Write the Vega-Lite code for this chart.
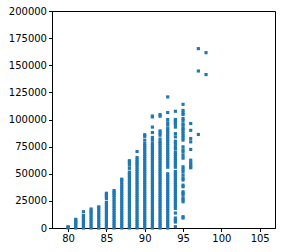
{
  "$schema": "https://vega.github.io/schema/vega-lite/v6.json",
  "autosize": "none",
  "width": 223,
  "height": 217,
  "padding": {"left": 52, "top": 11, "right": 10, "bottom": 24},
  "background": "white",
  "config": {
    "view": {"stroke": "black", "strokeWidth": 1},
    "axis": {"grid": false, "labelFont": "DejaVu Sans", "labelFontSize": 10, "labelColor": "black", "tickColor": "black", "domainColor": "black", "tickSize": 3.5, "labelPadding": 2, "title": null}
  },
  "data": {"values": [
    {"x":80,"y":0},{"x":80,"y":600},{"x":80,"y":1200},
    {"x":81,"y":0},{"x":81,"y":1500},{"x":81,"y":3000},{"x":81,"y":4500},{"x":81,"y":5500},{"x":81,"y":7000},{"x":81,"y":8000},
    {"x":82,"y":0},{"x":82,"y":2000},{"x":82,"y":4000},{"x":82,"y":6000},{"x":82,"y":8000},{"x":82,"y":10000},{"x":82,"y":11500},{"x":82,"y":15000},
    {"x":83,"y":0},{"x":83,"y":2000},{"x":83,"y":4000},{"x":83,"y":6000},{"x":83,"y":8000},{"x":83,"y":10000},{"x":83,"y":12000},{"x":83,"y":14000},{"x":83,"y":15500},{"x":83,"y":17500},
    {"x":84,"y":0},{"x":84,"y":2000},{"x":84,"y":4000},{"x":84,"y":6000},{"x":84,"y":8000},{"x":84,"y":10000},{"x":84,"y":12000},{"x":84,"y":14000},{"x":84,"y":16000},{"x":84,"y":18000},{"x":84,"y":19500},
    {"x":85,"y":0},{"x":85,"y":2000},{"x":85,"y":4000},{"x":85,"y":6000},{"x":85,"y":8000},{"x":85,"y":10000},{"x":85,"y":12000},{"x":85,"y":14000},{"x":85,"y":16000},{"x":85,"y":18000},{"x":85,"y":20000},{"x":85,"y":22000},{"x":85,"y":23500},{"x":85,"y":27000},{"x":85,"y":29000},{"x":85,"y":30500},{"x":85,"y":32000},
    {"x":86,"y":0},{"x":86,"y":2000},{"x":86,"y":4000},{"x":86,"y":6000},{"x":86,"y":8000},{"x":86,"y":10000},{"x":86,"y":12000},{"x":86,"y":14000},{"x":86,"y":16000},{"x":86,"y":18000},{"x":86,"y":20000},{"x":86,"y":22000},{"x":86,"y":24000},{"x":86,"y":26000},{"x":86,"y":28000},{"x":86,"y":30000},{"x":86,"y":31500},{"x":86,"y":33000},{"x":86,"y":34500},
    {"x":87,"y":0},{"x":87,"y":2000},{"x":87,"y":4000},{"x":87,"y":6000},{"x":87,"y":8000},{"x":87,"y":10000},{"x":87,"y":12000},{"x":87,"y":14000},{"x":87,"y":16000},{"x":87,"y":18000},{"x":87,"y":20000},{"x":87,"y":22000},{"x":87,"y":24000},{"x":87,"y":26000},{"x":87,"y":28000},{"x":87,"y":30000},{"x":87,"y":32000},{"x":87,"y":34000},{"x":87,"y":36000},{"x":87,"y":38000},{"x":87,"y":40000},{"x":87,"y":42000},{"x":87,"y":44000},{"x":87,"y":45000},
    {"x":88,"y":0},{"x":88,"y":2000},{"x":88,"y":4000},{"x":88,"y":6000},{"x":88,"y":8000},{"x":88,"y":10000},{"x":88,"y":12000},{"x":88,"y":14000},{"x":88,"y":16000},{"x":88,"y":18000},{"x":88,"y":20000},{"x":88,"y":22000},{"x":88,"y":24000},{"x":88,"y":26000},{"x":88,"y":28000},{"x":88,"y":30000},{"x":88,"y":32000},{"x":88,"y":34000},{"x":88,"y":36000},{"x":88,"y":38000},{"x":88,"y":40000},{"x":88,"y":42000},{"x":88,"y":44000},{"x":88,"y":46000},{"x":88,"y":48000},{"x":88,"y":50000},{"x":88,"y":51500},{"x":88,"y":55000},{"x":88,"y":58000},{"x":88,"y":60500},{"x":88,"y":62000},
    {"x":89,"y":0},{"x":89,"y":2000},{"x":89,"y":4000},{"x":89,"y":6000},{"x":89,"y":8000},{"x":89,"y":10000},{"x":89,"y":12000},{"x":89,"y":14000},{"x":89,"y":16000},{"x":89,"y":18000},{"x":89,"y":20000},{"x":89,"y":22000},{"x":89,"y":24000},{"x":89,"y":26000},{"x":89,"y":28000},{"x":89,"y":30000},{"x":89,"y":32000},{"x":89,"y":34000},{"x":89,"y":36000},{"x":89,"y":38000},{"x":89,"y":40000},{"x":89,"y":42000},{"x":89,"y":44000},{"x":89,"y":46000},{"x":89,"y":48000},{"x":89,"y":50000},{"x":89,"y":52000},{"x":89,"y":54000},{"x":89,"y":56000},{"x":89,"y":58000},{"x":89,"y":59500},{"x":89,"y":61000},{"x":89,"y":63000},{"x":89,"y":65000},{"x":89,"y":70500},
    {"x":90,"y":0},{"x":90,"y":2000},{"x":90,"y":4000},{"x":90,"y":6000},{"x":90,"y":8000},{"x":90,"y":10000},{"x":90,"y":12000},{"x":90,"y":14000},{"x":90,"y":16000},{"x":90,"y":18000},{"x":90,"y":20000},{"x":90,"y":22000},{"x":90,"y":24000},{"x":90,"y":26000},{"x":90,"y":28000},{"x":90,"y":30000},{"x":90,"y":32000},{"x":90,"y":34000},{"x":90,"y":36000},{"x":90,"y":38000},{"x":90,"y":40000},{"x":90,"y":42000},{"x":90,"y":44000},{"x":90,"y":46000},{"x":90,"y":48000},{"x":90,"y":50000},{"x":90,"y":52000},{"x":90,"y":54000},{"x":90,"y":56000},{"x":90,"y":58000},{"x":90,"y":60000},{"x":90,"y":62000},{"x":90,"y":64000},{"x":90,"y":66000},{"x":90,"y":68000},{"x":90,"y":70000},{"x":90,"y":72000},{"x":90,"y":74000},{"x":90,"y":76000},{"x":90,"y":78000},{"x":90,"y":81000},{"x":90,"y":84500},{"x":90,"y":86000},
    {"x":91,"y":0},{"x":91,"y":2000},{"x":91,"y":4000},{"x":91,"y":6000},{"x":91,"y":8000},{"x":91,"y":10000},{"x":91,"y":12000},{"x":91,"y":14000},{"x":91,"y":16000},{"x":91,"y":18000},{"x":91,"y":20000},{"x":91,"y":22000},{"x":91,"y":24000},{"x":91,"y":26000},{"x":91,"y":28000},{"x":91,"y":30000},{"x":91,"y":32000},{"x":91,"y":34000},{"x":91,"y":36000},{"x":91,"y":38000},{"x":91,"y":40000},{"x":91,"y":42000},{"x":91,"y":44000},{"x":91,"y":46000},{"x":91,"y":48000},{"x":91,"y":50000},{"x":91,"y":52000},{"x":91,"y":54000},{"x":91,"y":56000},{"x":91,"y":58000},{"x":91,"y":60000},{"x":91,"y":62000},{"x":91,"y":64000},{"x":91,"y":66000},{"x":91,"y":68000},{"x":91,"y":70000},{"x":91,"y":72000},{"x":91,"y":74000},{"x":91,"y":76000},{"x":91,"y":78000},{"x":91,"y":81000},{"x":91,"y":83500},{"x":91,"y":88000},{"x":91,"y":93000},{"x":91,"y":102400},{"x":91,"y":103200},
    {"x":92,"y":0},{"x":92,"y":2000},{"x":92,"y":4000},{"x":92,"y":6000},{"x":92,"y":8000},{"x":92,"y":10000},{"x":92,"y":12000},{"x":92,"y":14000},{"x":92,"y":16000},{"x":92,"y":18000},{"x":92,"y":20000},{"x":92,"y":22000},{"x":92,"y":24000},{"x":92,"y":26000},{"x":92,"y":28000},{"x":92,"y":30000},{"x":92,"y":32000},{"x":92,"y":34000},{"x":92,"y":36000},{"x":92,"y":38000},{"x":92,"y":40000},{"x":92,"y":42000},{"x":92,"y":44000},{"x":92,"y":46000},{"x":92,"y":48000},{"x":92,"y":50000},{"x":92,"y":52000},{"x":92,"y":54000},{"x":92,"y":56000},{"x":92,"y":58000},{"x":92,"y":60000},{"x":92,"y":62000},{"x":92,"y":64000},{"x":92,"y":66000},{"x":92,"y":68000},{"x":92,"y":70000},{"x":92,"y":72000},{"x":92,"y":74000},{"x":92,"y":76000},{"x":92,"y":78000},{"x":92,"y":79500},{"x":92,"y":82000},{"x":92,"y":85500},{"x":92,"y":87500},{"x":92,"y":89500},{"x":92,"y":103000},{"x":92,"y":104600},
    {"x":93,"y":0},{"x":93,"y":2000},{"x":93,"y":4000},{"x":93,"y":6000},{"x":93,"y":8000},{"x":93,"y":10000},{"x":93,"y":12000},{"x":93,"y":14000},{"x":93,"y":16000},{"x":93,"y":18000},{"x":93,"y":20000},{"x":93,"y":22000},{"x":93,"y":24000},{"x":93,"y":26000},{"x":93,"y":28000},{"x":93,"y":30000},{"x":93,"y":32000},{"x":93,"y":34000},{"x":93,"y":36000},{"x":93,"y":38000},{"x":93,"y":40000},{"x":93,"y":42000},{"x":93,"y":44000},{"x":93,"y":46000},{"x":93,"y":48000},{"x":93,"y":50000},{"x":93,"y":56000},{"x":93,"y":58000},{"x":93,"y":60000},{"x":93,"y":62000},{"x":93,"y":64000},{"x":93,"y":66000},{"x":93,"y":68000},{"x":93,"y":70000},{"x":93,"y":72000},{"x":93,"y":74000},{"x":93,"y":76000},{"x":93,"y":78000},{"x":93,"y":80000},{"x":93,"y":82000},{"x":93,"y":84000},{"x":93,"y":86000},{"x":93,"y":88000},{"x":93,"y":90000},{"x":93,"y":92000},{"x":93,"y":95000},{"x":93,"y":97000},{"x":93,"y":100000},{"x":93,"y":106400},{"x":93,"y":120800},
    {"x":94,"y":1200},{"x":94,"y":5500},{"x":94,"y":7500},{"x":94,"y":9200},{"x":94,"y":13800},{"x":94,"y":18000},{"x":94,"y":20000},{"x":94,"y":22000},{"x":94,"y":24000},{"x":94,"y":26000},{"x":94,"y":28000},{"x":94,"y":30000},{"x":94,"y":32000},{"x":94,"y":34000},{"x":94,"y":36000},{"x":94,"y":38000},{"x":94,"y":40000},{"x":94,"y":42000},{"x":94,"y":44000},{"x":94,"y":46000},{"x":94,"y":48000},{"x":94,"y":50000},{"x":94,"y":52000},{"x":94,"y":56000},{"x":94,"y":58000},{"x":94,"y":60000},{"x":94,"y":62000},{"x":94,"y":64000},{"x":94,"y":66000},{"x":94,"y":68000},{"x":94,"y":70000},{"x":94,"y":73000},{"x":94,"y":75000},{"x":94,"y":78000},{"x":94,"y":80000},{"x":94,"y":84000},{"x":94,"y":87000},{"x":94,"y":93000},{"x":94,"y":95500},{"x":94,"y":97000},{"x":94,"y":99000},{"x":94,"y":100000},{"x":94,"y":107600},
    {"x":95,"y":9200},{"x":95,"y":10400},{"x":95,"y":24200},{"x":95,"y":26000},{"x":95,"y":27600},{"x":95,"y":30400},{"x":95,"y":32000},{"x":95,"y":33400},{"x":95,"y":38000},{"x":95,"y":39500},{"x":95,"y":44200},{"x":95,"y":46000},{"x":95,"y":48800},{"x":95,"y":51800},{"x":95,"y":54000},{"x":95,"y":56400},{"x":95,"y":64400},{"x":95,"y":67000},{"x":95,"y":70000},{"x":95,"y":72000},{"x":95,"y":74800},{"x":95,"y":81000},{"x":95,"y":83000},{"x":95,"y":85000},{"x":95,"y":87000},{"x":95,"y":89000},{"x":95,"y":91000},{"x":95,"y":92000},{"x":95,"y":94700},{"x":95,"y":96000},{"x":95,"y":99000},{"x":95,"y":100900},{"x":95,"y":104600},{"x":95,"y":106000},{"x":95,"y":108400},{"x":95,"y":114000},
    {"x":96,"y":55500},{"x":96,"y":56400},{"x":96,"y":58500},{"x":96,"y":60000},{"x":96,"y":62500},{"x":96,"y":72400},{"x":96,"y":79400},{"x":96,"y":82500},{"x":96,"y":90000},{"x":96,"y":96300},
    {"x":97,"y":86200},{"x":97,"y":144700},{"x":97,"y":165300},
    {"x":98,"y":141400},{"x":98,"y":161600}
  ]},
  "mark": {"type": "point", "shape": "square", "filled": true, "size": 10, "color": "#1f77b4", "opacity": 1},
  "encoding": {
    "x": {"field": "x", "type": "quantitative", "scale": {"domain": [77.9, 107], "nice": false, "zero": false}, "axis": {"values": [80, 85, 90, 95, 100, 105], "format": "d"}},
    "y": {"field": "y", "type": "quantitative", "scale": {"domain": [0, 200000], "nice": false}, "axis": {"values": [0, 25000, 50000, 75000, 100000, 125000, 150000, 175000, 200000], "format": "d"}}
  }
}
